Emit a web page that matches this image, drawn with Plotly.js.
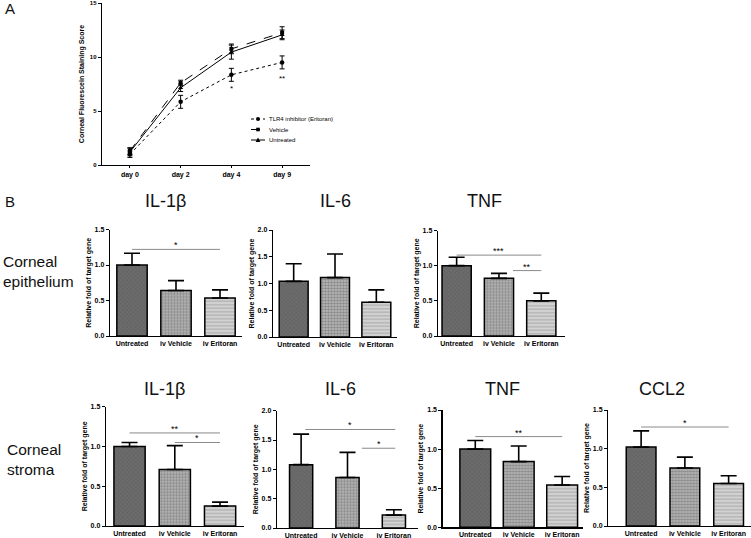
<!DOCTYPE html>
<html>
<head>
<meta charset="utf-8">
<script src="https://cdn.plot.ly/plotly-3.0.1.min.js"></script>
<style>html,body{margin:0;padding:0;background:#fff;}#chart{width:751px;height:538px;}</style>
</head>
<body>
<div id="chart"></div>
<script>
// ---------- Panel A data ----------
const days = ['day 0', 'day 2', 'day 4', 'day 9'];
const eritoranScore = [1.0, 5.85, 8.35, 9.5];
const eritoranErr = [0.3, 0.6, 0.6, 0.6];
const vehicleScore = [1.3, 7.6, 10.75, 12.25];
const vehicleErr = [0.3, 0.25, 0.45, 0.55];
const untreatedScore = [1.2, 7.15, 10.45, 12.05];
const untreatedErr = [0.35, 0.35, 0.65, 0.45];
const sigA_x = ['day 4', 'day 9'];
const sigA_y = [7.1, 8.05];
const sigA_t = ['*', '**'];
const seriesNames = ['TLR4 inhibitor (Eritoran)', 'Vehicle', 'Untreated'];

// ---------- Panel B data ----------
const groups = ['Untreated', 'iv Vehicle', 'iv Eritoran'];
const epiIL1b = [1.0, 0.64, 0.535];
const epiIL1bErr = [0.165, 0.14, 0.115];
const epiIL6 = [1.04, 1.11, 0.65];
const epiIL6Err = [0.33, 0.44, 0.23];
const epiTNF = [1.0, 0.82, 0.50];
const epiTNFErr = [0.12, 0.07, 0.11];
const strIL1b = [1.0, 0.71, 0.25];
const strIL1bErr = [0.05, 0.30, 0.05];
const strIL6 = [1.08, 0.86, 0.22];
const strIL6Err = [0.52, 0.43, 0.09];
const strTNF = [1.0, 0.84, 0.54];
const strTNFErr = [0.11, 0.20, 0.11];
const strCCL2 = [1.02, 0.75, 0.55];
const strCCL2Err = [0.21, 0.14, 0.10];
// significance brackets: [from category pos, to category pos, y, label]
const epiIL1bSig = [[0, 2, 1.22, '*']];
const epiIL6Sig = [];
const epiTNFSig = [[0, 2, 1.15, '***'], [1.33, 2, 0.93, '**']];
const strIL1bSig = [[0, 2, 1.17, '**'], [1, 2, 1.05, '*']];
const strIL6Sig = [[0.09, 2.03, 1.68, '*'], [1.31, 2.03, 1.36, '*']];
const strTNFSig = [[0, 2, 1.16, '**']];
const strCCL2Sig = [[0, 2, 1.28, '*']];
const geneTitles = ['IL-1β', 'IL-6', 'TNF', 'IL-1β', 'IL-6', 'TNF', 'CCL2'];

// ---------- layout helpers ----------
const W = 751, H = 538;
const FONT = 'Liberation Sans, Arial, Helvetica, sans-serif';
function dx(a, b) { return [a / W, b / W]; }
function dy(top, bot) { return [(H - bot) / H, (H - top) / H]; }
function px(x) { return x / W; }
function py(y) { return (H - y) / H; }
const tickFont = {family: FONT, size: 7, color: '#000', weight: 'bold'};
const titleFont = {family: FONT, size: 7, color: '#000', weight: 'bold'};

const layout = {
  width: W, height: H,
  margin: {l: 0, r: 0, t: 0, b: 0},
  paper_bgcolor: '#fff', plot_bgcolor: 'rgba(0,0,0,0)',
  showlegend: false, barmode: 'overlay',
  font: {family: FONT, color: '#000'},
  shapes: [], annotations: []
};
function axisBase(extra) {
  return Object.assign({
    showline: true, linecolor: '#000', linewidth: 1.3, showgrid: false, zeroline: false,
    tickfont: tickFont, fixedrange: true, ticks: 'outside', ticklen: 3, tickwidth: 1, tickcolor: '#000'
  }, extra);
}

const traces = [];

// ---------- Panel A ----------
layout.xaxis = axisBase({domain: dx(102, 310), range: [-0.55, 3.55], type: 'category', anchor: 'y', ticklen: 2});
layout.yaxis = axisBase({domain: dy(3, 165), range: [0, 15], dtick: 5, anchor: 'x',
  tickfont: Object.assign({}, tickFont, {size: 6}),
  title: {text: 'Corneal Fluorescein Staining Score', font: titleFont, standoff: 4}});
const lineSpecs = [
  {y: eritoranScore, e: eritoranErr, dash: 'dot', sym: 'circle'},
  {y: vehicleScore, e: vehicleErr, dash: 'dash', sym: 'square'},
  {y: untreatedScore, e: untreatedErr, dash: 'solid', sym: 'triangle-up'}
];
lineSpecs.forEach((s, i) => {
  traces.push({
    type: 'scatter', mode: 'lines+markers', name: seriesNames[i], x: days, y: s.y,
    xaxis: 'x', yaxis: 'y',
    line: {color: '#000', width: 1, dash: s.dash},
    marker: {color: '#000', size: s.sym === 'square' ? 4 : 4.5, symbol: s.sym},
    error_y: {type: 'data', array: s.e, visible: true, color: '#000', thickness: 1, width: 2.5}
  });
});
sigA_x.forEach((x, i) => {
  layout.annotations.push({x: x, y: sigA_y[i], xref: 'x', yref: 'y', text: sigA_t[i], showarrow: false,
    font: {family: FONT, size: 8, color: '#000'}});
});
// manual legend
const legRows = [119, 129.5, 140];
lineSpecs.forEach((s, i) => {
  const y = py(legRows[i]);
  layout.shapes.push({type: 'line', xref: 'paper', yref: 'paper', x0: px(251), x1: px(265), y0: y, y1: y,
    line: {color: '#000', width: 1, dash: s.dash}});
  const cx = 258, cy = legRows[i];
  if (s.sym === 'circle') {
    layout.shapes.push({type: 'circle', xref: 'paper', yref: 'paper', x0: px(cx - 2), x1: px(cx + 2), y0: py(cy + 2), y1: py(cy - 2),
      fillcolor: '#000', line: {width: 0}});
  } else if (s.sym === 'square') {
    layout.shapes.push({type: 'rect', xref: 'paper', yref: 'paper', x0: px(cx - 1.8), x1: px(cx + 1.8), y0: py(cy + 1.8), y1: py(cy - 1.8),
      fillcolor: '#000', line: {width: 0}});
  } else {
    layout.shapes.push({type: 'path', xref: 'paper', yref: 'paper',
      path: 'M' + px(cx - 2.4) + ',' + py(cy + 2) + ' L' + px(cx + 2.4) + ',' + py(cy + 2) + ' L' + px(cx) + ',' + py(cy - 2.4) + ' Z',
      fillcolor: '#000', line: {width: 0}});
  }
  layout.annotations.push({x: px(267), y: y, xref: 'paper', yref: 'paper', xanchor: 'left', yanchor: 'middle',
    text: seriesNames[i], showarrow: false, font: {family: FONT, size: 6, color: '#000'}});
});

// ---------- Panel B ----------
const barStyles = [
  {color: '#6c6c6c', pattern: {shape: 'x', fgcolor: '#4c4c4c', size: 3, solidity: 0.3, fillmode: 'overlay'}},
  {color: '#bdbdbd', pattern: {shape: '.', fgcolor: '#5a5a5a', size: 3, solidity: 0.6, fillmode: 'overlay'}},
  {color: '#d2d2d2', pattern: {shape: '-', fgcolor: '#a0a0a0', size: 3.5, solidity: 0.5, fillmode: 'overlay'}}
];
const panels = [
  {v: epiIL1b, e: epiIL1bErr, sig: epiIL1bSig, xd: [110, 242], yd: [229.5, 336], xr: [-0.5, 2.5], yr: [0, 1.5], w: 0.69, title: [165, 201]},
  {v: epiIL6, e: epiIL6Err, sig: epiIL6Sig, xd: [273, 397], yd: [230, 337], xr: [-0.5, 2.5], yr: [0, 2], w: 0.7, title: [335, 201]},
  {v: epiTNF, e: epiTNFErr, sig: epiTNFSig, xd: [438, 565], yd: [230.5, 336], xr: [-0.44, 2.56], yr: [0, 1.5], w: 0.69, title: [484, 201]},
  {v: strIL1b, e: strIL1bErr, sig: strIL1bSig, xd: [106, 243.6], yd: [406.7, 526], xr: [-0.52, 2.52], yr: [0, 1.5], w: 0.69, title: [164, 389]},
  {v: strIL6, e: strIL6Err, sig: strIL6Sig, xd: [277, 418], yd: [410.7, 528], xr: [-0.52, 2.52], yr: [0, 2], w: 0.5, title: [340, 389]},
  {v: strTNF, e: strTNFErr, sig: strTNFSig, xd: [442.7, 583], yd: [410, 527.3], xr: [-0.75, 2.48], yr: [0, 1.5], w: 0.71, title: [502, 389]},
  {v: strCCL2, e: strCCL2Err, sig: strCCL2Sig, xd: [608.3, 750.5], yd: [410, 526], xr: [-0.75, 2.5], yr: [0, 1.5], w: 0.68, title: [662, 389]}
];
panels.forEach((p, i) => {
  const n = i + 2;
  const xa = 'x' + n, ya = 'y' + n;
  layout['xaxis' + n] = axisBase({domain: dx(p.xd[0], p.xd[1]), range: p.xr, anchor: ya, ticks: '',
    tickmode: 'array', tickvals: [0, 1, 2], ticktext: groups});
  layout['yaxis' + n] = axisBase({domain: dy(p.yd[0], p.yd[1]), range: p.yr, anchor: xa, dtick: 0.5, tickformat: '.1f',
    title: {text: 'Relative fold of target gene', font: titleFont, standoff: 2}});
  groups.forEach((g, k) => {
    traces.push({
      type: 'bar', name: g, x: [k], y: [p.v[k]], xaxis: xa, yaxis: ya, width: p.w,
      marker: {color: barStyles[k].color, line: {color: '#000', width: 1.5}, pattern: barStyles[k].pattern},
      error_y: {type: 'data', symmetric: false, array: [p.e[k]], arrayminus: [0], visible: true, color: '#000', thickness: 1.6, width: 8}
    });
  });
  p.sig.forEach(s => {
    layout.shapes.push({type: 'line', xref: xa, yref: ya, x0: s[0], x1: s[1], y0: s[2], y1: s[2], line: {color: '#8a8a8a', width: 1}});
    layout.annotations.push({x: (s[0] + s[1]) / 2, y: s[2], xref: xa, yref: ya, text: s[3], showarrow: false, yanchor: 'bottom', yshift: -3,
      font: {family: FONT, size: 9, color: '#000'}});
  });
  layout.annotations.push({x: px(p.title[0]), y: py(p.title[1]), xref: 'paper', yref: 'paper', text: geneTitles[i], showarrow: false,
    xanchor: 'center', yanchor: 'middle', font: {family: FONT, size: 18, color: '#111'}});
});

// panel letters and row labels
layout.annotations.push({x: px(9.5), y: py(8), xref: 'paper', yref: 'paper', xanchor: 'center', yanchor: 'middle', text: 'A', showarrow: false, font: {family: FONT, size: 15, color: '#111'}});
layout.annotations.push({x: px(9.5), y: py(201.5), xref: 'paper', yref: 'paper', xanchor: 'center', yanchor: 'middle', text: 'B', showarrow: false, font: {family: FONT, size: 15, color: '#111'}});
layout.annotations.push({x: px(1), y: py(271), xref: 'paper', yref: 'paper', xanchor: 'left', yanchor: 'middle', align: 'left',
  text: 'Corneal<br>epithelium', showarrow: false, font: {family: FONT, size: 15.5, color: '#111'}});
layout.annotations.push({x: px(5), y: py(459), xref: 'paper', yref: 'paper', xanchor: 'left', yanchor: 'middle', align: 'left',
  text: 'Corneal<br>stroma', showarrow: false, font: {family: FONT, size: 15.5, color: '#111'}});

Plotly.newPlot('chart', traces, layout, {staticPlot: true, displayModeBar: false});
</script>
</body>
</html>
